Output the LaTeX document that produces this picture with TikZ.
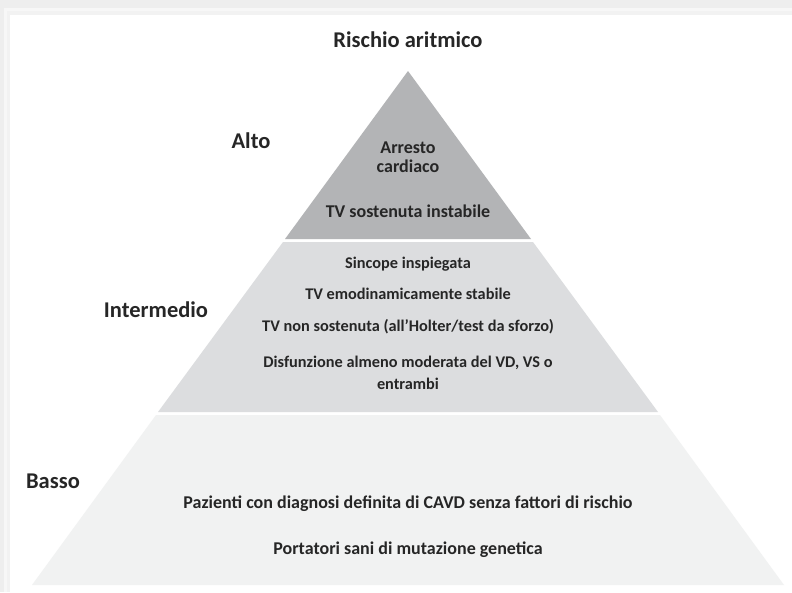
\documentclass[tikz,border=0pt]{standalone}
\usepackage{fontspec}
\setmainfont{Carlito}
\definecolor{txt}{HTML}{262626}
\definecolor{topc}{HTML}{B3B4B6}
\definecolor{midc}{HTML}{DCDDDF}
\definecolor{botc}{HTML}{F1F2F2}
\definecolor{shadow}{HTML}{EEEEEE}
\tikzset{
  body/.style={font=\fontsize{18}{19}\selectfont\bfseries, text=txt, align=center, inner sep=0pt},
  midbody/.style={body, font=\fontsize{16.3}{21.5}\selectfont\bfseries},
  lowbody/.style={body, font=\fontsize{18}{21}\selectfont\bfseries},
  lvl/.style={font=\fontsize{22.5}{26}\selectfont\bfseries, text=txt, inner sep=0pt},
  band/.style={draw=none}
}
\begin{document}
\begin{tikzpicture}[x=1pt,y=-1pt]
\useasboundingbox (0,0) rectangle (792,592);
\fill[shadow] (0,0) rectangle (792,592);
\fill[black!3] (4,8) rectangle (792,592);
\fill[black!5] (7,11) rectangle (792,592);
\fill[white] (10,15) rectangle (792,592);
% bands
\fill[band, topc] (408,71) -- (531,239) -- (285,239) -- cycle;
\fill[band, midc] (283,242) -- (533,242) -- (658,412) -- (158,412) -- cycle;
\fill[band, botc] (156,415) -- (660,415) -- (784,585) -- (32,585) -- cycle;
% title
\node[lvl] (title) at (408,40) {Rischio aritmico};
% levels
\node[lvl] (alto) at (251,141) {Alto};
\node[lvl] (inter) at (156,310) {Intermedio};
\node[lvl] (basso) at (53,481) {Basso};
% top texts
\node[body] (arresto) at (408,157) {Arresto\\cardiaco};
\node[body] (tvsi) at (408,211) {TV sostenuta instabile};
% middle
\node[midbody] (sinc) at (408,264) {Sincope inspiegata};
\node[midbody] (tvem) at (408,294) {TV emodinamicamente stabile};
\node[midbody] (tvns) at (408,327) {TV non sostenuta (all’Holter/test da sforzo)};
\node[midbody] (disf) at (408,373) {Disfunzione almeno moderata del VD, VS o\\entrambi};
% bottom
\node[lowbody] (paz) at (408,504) {Pazienti con diagnosi definita di CAVD senza fattori di rischio};
\node[lowbody] (port) at (408,550) {Portatori sani di mutazione genetica};
\end{tikzpicture}
\end{document}
